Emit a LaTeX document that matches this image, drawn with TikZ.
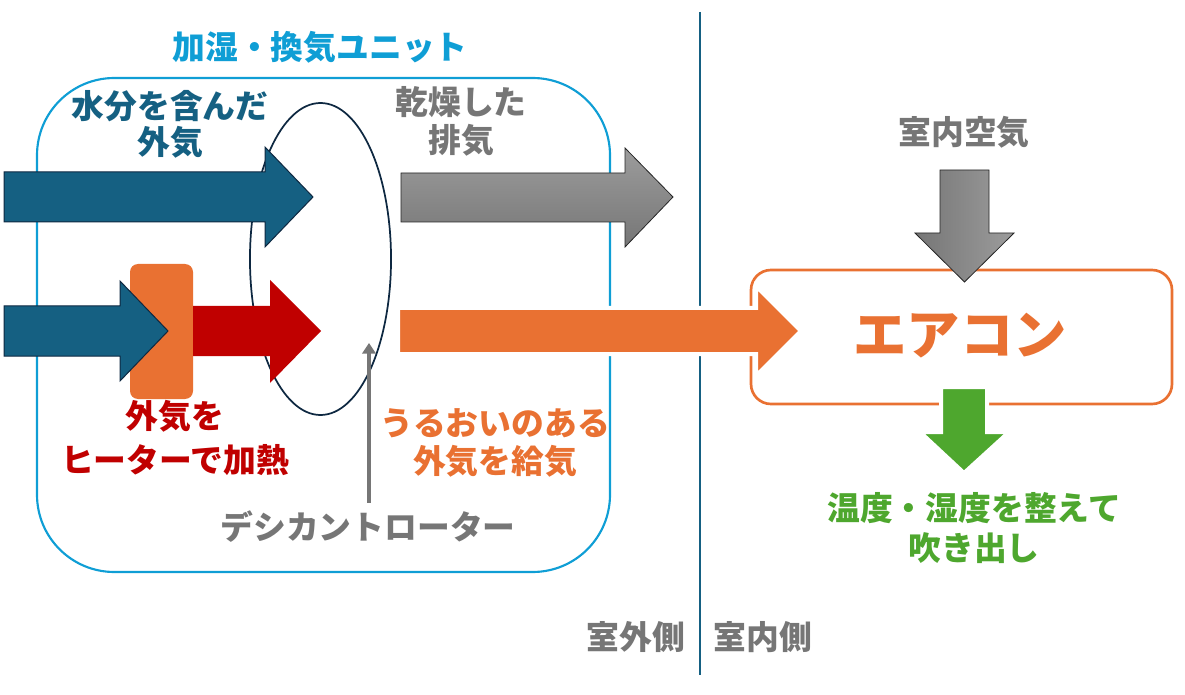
\documentclass[tikz,border=0pt]{standalone}
\usepackage{fontspec}
\setmainfont{Noto Sans CJK JP}
\usetikzlibrary{arrows.meta}
\definecolor{unitblue}{HTML}{0F9ED5}
\definecolor{darkblue}{HTML}{156082}
\definecolor{navy}{HTML}{0E2841}
\definecolor{orng}{HTML}{E97132}
\definecolor{grn}{HTML}{4EA72E}
\definecolor{redd}{HTML}{C00000}
\definecolor{txtgray}{HTML}{767676}
\definecolor{glight}{HTML}{9C9C9C}
\definecolor{gdark}{HTML}{767676}
\tikzset{
  lbl/.style={inner sep=0pt, align=center, font=\bfseries\fontsize{24.6}{29}\selectfont},
  blockdark/.style={fill=darkblue, draw=navy, line width=0.75pt, line join=miter},
  blockwhite/.style={draw=white, line width=3pt, line join=miter},
  blockgray/.style={draw=black!85, line width=0.6pt, line join=miter},
  pointer/.style={draw=txtgray, line width=2.8pt, -{Triangle[length=8pt,width=10pt]}}
}
\begin{document}
\begin{tikzpicture}[x=0.75pt,y=-0.75pt]
\useasboundingbox (0,0) rectangle (1185,695);
% unit frame and divider
\draw[unitblue, line width=1.6pt, rounded corners=58pt] (37,78) rectangle (610,572);
\draw[darkblue, line width=1.6pt] (700,12) -- (700,675);
% air-conditioner box
\draw[orng, line width=2pt, rounded corners=15pt] (751,270) rectangle (1172,404);
% desiccant rotor
\draw[navy, line width=1.3pt] (320.5,259) ellipse [x radius=52.9pt, y radius=117pt];
% heater
\fill[orng, rounded corners=6pt] (130,264) rectangle (193,399);
% arrows
\path[blockdark] (4,172) -- (265,172) -- (265,147) -- (313,197) -- (265,247) -- (265,222) -- (4,222) -- cycle;
\path[blockdark] (4,306) -- (120,306) -- (120,281) -- (168,331) -- (120,381) -- (120,356) -- (4,356) -- cycle;
\fill[redd] (193,306) -- (270,306) -- (270,280) -- (321,331) -- (270,383) -- (270,356) -- (193,356) -- cycle;
\shadedraw[blockgray, top color=glight, bottom color=gdark] (401,173) -- (625,173) -- (625,148) -- (673,197) -- (625,247) -- (625,222) -- (401,222) -- cycle;
\filldraw[blockwhite, fill=orng] (398,308) -- (756,308) -- (756,286) -- (801,331) -- (756,376) -- (756,354) -- (398,354) -- cycle;
\shadedraw[blockgray, left color=gdark, right color=glight] (940,170) -- (989,170) -- (989,233) -- (1014,233) -- (964.5,282) -- (915,233) -- (940,233) -- cycle;
\filldraw[blockwhite, fill=grn] (941,387) -- (987,387) -- (987,432) -- (1009,432) -- (964,473) -- (920,432) -- (941,432) -- cycle;
% labels
\node[lbl, text=unitblue] (title) at (320,47) {加湿・換気ユニット};
\node[lbl, text=darkblue, font=\bfseries\fontsize{24.6}{27}\selectfont] (moist) at (170,124) {水分を含んだ\\外気};
\node[lbl, text=txtgray, font=\bfseries\fontsize{24.6}{28.5}\selectfont] (dry) at (461,121) {乾燥した\\排気};
\node[lbl, text=txtgray] (room) at (964,132) {室内空気};
\node[inner sep=0pt, text=orng, font=\bfseries\fontsize{40}{45}\selectfont] (ac) at (960,336) {エアコン};
\node[lbl, text=redd, font=\bfseries\fontsize{24.6}{33}\selectfont] (heat) at (175,438) {外気を\\ヒーターで加熱};
\node[lbl, text=orng, font=\bfseries\fontsize{24.6}{29}\selectfont] (supply) at (495,443) {うるおいのある\\外気を給気};
\node[lbl, text=txtgray] (desic) at (368,527) {デシカントローター};
\node[lbl, text=grn, font=\bfseries\fontsize{24.6}{30}\selectfont] (out) at (974,528) {温度・湿度を整えて\\吹き出し};
\node[lbl, text=txtgray] (outside) at (636,637) {室外側};
\node[lbl, text=txtgray] (inside) at (763,637) {室内側};
% pointer to the rotor
\coordinate (ptr) at (369,343);
\draw[pointer] ([yshift=6pt]desic.north -| ptr) -- (ptr);
\end{tikzpicture}
\end{document}
